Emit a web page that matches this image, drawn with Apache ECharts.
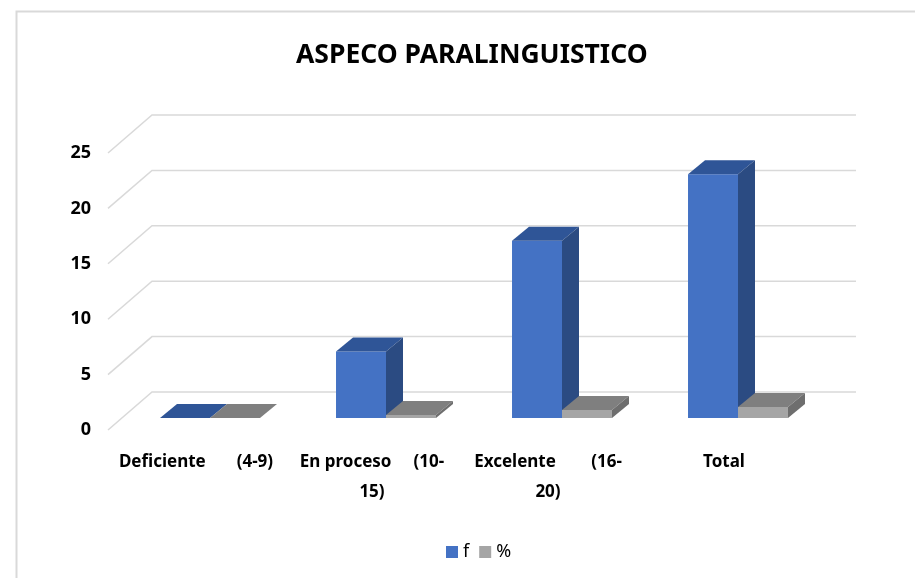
<!DOCTYPE html>
<html>
<head>
<meta charset="utf-8">
<script src="https://cdn.jsdelivr.net/npm/echarts@6/dist/echarts.min.js"></script>
<style>
  html, body { margin: 0; padding: 0; background: #fff; }
  #main { width: 915px; height: 578px; }
</style>
</head>
<body>
<div id="main"></div>
<script>
var categories = ['Deficiente       (4-9)', 'En proceso     (10-\n15)', 'Excelente        (16-\n20)', 'Total'];
var fValues = [0, 6, 16, 22];
var pctValues = [0, 0.27, 0.73, 1];
var yTicks = [0, 5, 10, 15, 20, 25];

// fake 3d: back wall offset, bar placement offset, bar depth
var WALL_DX = 44, WALL_DY = -38;
var BAR_DX = 14, BAR_DY = -12;
var DEPTH_DX = 17, DEPTH_DY = -14;

function barRenderer(slot, colors) {
  return function (params, api) {
    var idx = api.value(0);
    var top = api.coord([idx, api.value(1)]);
    var base = api.coord([idx, 0]);
    var w = api.size([1, 0])[0] * 0.284;
    var xl = top[0] + BAR_DX + (slot === 0 ? -w : 0);
    var xr = xl + w;
    var yt = top[1] + BAR_DY;
    var yb = base[1] + BAR_DY;
    return {
      type: 'group',
      children: [
        { type: 'rect', shape: { x: xl, y: yt, width: w, height: yb - yt }, style: { fill: colors[0] } },
        { type: 'polygon', shape: { points: [[xl, yt], [xr, yt], [xr + DEPTH_DX, yt + DEPTH_DY], [xl + DEPTH_DX, yt + DEPTH_DY]] }, style: { fill: colors[1] } },
        { type: 'polygon', shape: { points: [[xr, yt], [xr + DEPTH_DX, yt + DEPTH_DY], [xr + DEPTH_DX, yb + DEPTH_DY], [xr, yb]] }, style: { fill: colors[2] } }
      ]
    };
  };
}

var myChart = echarts.init(document.getElementById('main'));
var option = {
  backgroundColor: '#fff',
  animation: false,
  title: {
    text: 'ASPECO PARALINGUISTICO',
    left: 291,
    top: 37,
    textStyle: { fontFamily: 'Noto Sans', fontWeight: 'bold', fontSize: 26.5, color: '#000' }
  },
  graphic: [{
    type: 'rect',
    left: 14, top: 9,
    shape: { width: 920, height: 600 },
    style: { fill: 'none', stroke: '#d9d9d9', lineWidth: 2 },
    silent: true
  }],
  legend: {
    left: 441,
    top: 538,
    itemWidth: 12,
    itemHeight: 12,
    itemGap: 10,
    textStyle: { fontFamily: 'Noto Sans', fontSize: 18, color: '#000' },
    data: [
      { name: 'f', icon: 'rect', itemStyle: { color: '#4472C4' } },
      { name: '%', icon: 'rect', itemStyle: { color: '#A5A5A5' } }
    ]
  },
  grid: { left: 108, top: 153, width: 704, bottom: 148 },
  xAxis: {
    type: 'category',
    data: categories,
    axisLine: { show: false },
    axisTick: { show: false },
    axisLabel: {
      interval: 0,
      margin: 17,
      lineHeight: 30,
      fontFamily: 'Noto Sans',
      fontWeight: 'bold',
      fontSize: 17,
      color: '#000'
    }
  },
  yAxis: {
    type: 'value',
    min: 0,
    max: 25,
    interval: 5,
    axisLine: { show: false },
    axisTick: { show: false },
    splitLine: { show: false },
    axisLabel: { margin: 17, fontFamily: 'Noto Sans', fontWeight: 'bold', fontSize: 18, color: '#000' }
  },
  series: [
    {
      type: 'custom',
      name: 'grid',
      silent: true,
      clip: false,
      z: 1,
      data: yTicks.map(function (v) { return [0, v]; }),
      renderItem: function (params, api) {
        var cs = params.coordSys;
        var y = api.coord([0, api.value(1)])[1];
        var x = cs.x;
        return {
          type: 'polyline',
          shape: { points: [[x, y], [x + WALL_DX, y + WALL_DY], [x + cs.width + WALL_DX, y + WALL_DY]] },
          style: { fill: 'none', stroke: '#d9d9d9', lineWidth: 1.5 }
        };
      }
    },
    {
      type: 'custom',
      name: 'f',
      clip: false,
      z: 2,
      data: fValues.map(function (v, i) { return [i, v]; }),
      renderItem: barRenderer(0, ['#4472C4', '#2F5597', '#2B4B82'])
    },
    {
      type: 'custom',
      name: '%',
      clip: false,
      z: 3,
      data: pctValues.map(function (v, i) { return [i, v]; }),
      renderItem: barRenderer(1, ['#A5A5A5', '#7F7F7F', '#6E6E6E'])
    }
  ]
};
myChart.setOption(option);
</script>
</body>
</html>
